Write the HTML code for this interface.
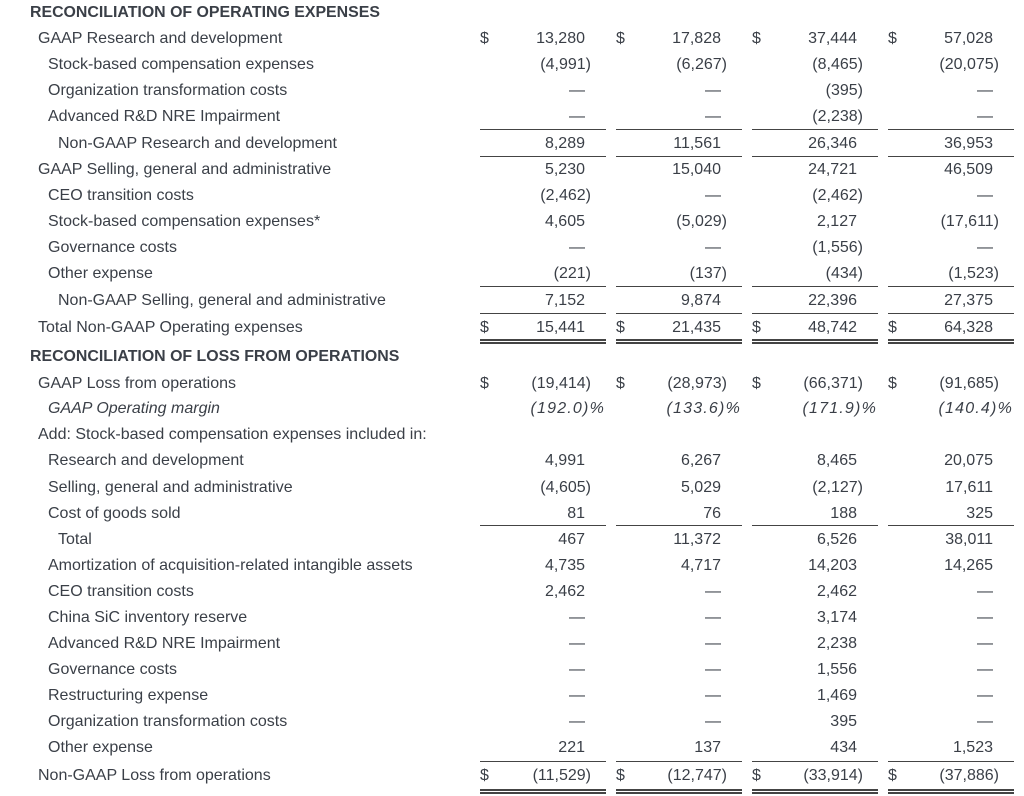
<!DOCTYPE html>
<html><head><meta charset="utf-8"><style>
body{margin:0;background:#fff;width:1024px;height:796px;overflow:hidden;position:relative;font-family:"Liberation Sans",Arial,sans-serif;font-size:16px;color:#3a3f47}
.r{position:absolute;left:0;width:1024px;height:20px;line-height:20px}
.r span{position:absolute;top:0;white-space:nowrap}
.h{font-weight:bold;left:30px;font-size:15.9px}
.l1{left:38px}.l2{left:48px}.l3{left:58px}
.c{text-align:right;width:110px;box-sizing:border-box}
.c1{left:481px}.c2{left:617px}.c3{left:753px}.c4{left:889px}
.n{padding-right:6px}
.d1{left:480px}.d2{left:616px}.d3{left:752px}.d4{left:888px}
.p{font-style:italic;width:124px;letter-spacing:1.2px}
.ln{position:absolute;height:1px;background:#444;width:126px}
.dl{position:absolute;border-top:2px solid #444;border-bottom:2px solid #444;width:126px;box-sizing:border-box;height:5px}
</style></head><body>

<div class="r" style="top:3px"><span class="h">RECONCILIATION OF OPERATING EXPENSES</span></div>
<div class="r" style="top:29px"><span class="l1">GAAP Research and development</span><span class="d1">$</span><span class="d2">$</span><span class="d3">$</span><span class="d4">$</span><span class="c c1 n">13,280</span><span class="c c2 n">17,828</span><span class="c c3 n">37,444</span><span class="c c4 n">57,028</span></div>
<div class="r" style="top:55px"><span class="l2">Stock-based compensation expenses</span><span class="c c1">(4,991)</span><span class="c c2">(6,267)</span><span class="c c3">(8,465)</span><span class="c c4">(20,075)</span></div>
<div class="r" style="top:81px"><span class="l2">Organization transformation costs</span><span class="c c1 n">—</span><span class="c c2 n">—</span><span class="c c3">(395)</span><span class="c c4 n">—</span></div>
<div class="r" style="top:107px"><span class="l2">Advanced R&amp;D NRE Impairment</span><span class="c c1 n">—</span><span class="c c2 n">—</span><span class="c c3">(2,238)</span><span class="c c4 n">—</span></div>
<div class="r" style="top:134px"><span class="l3">Non-GAAP Research and development</span><span class="c c1 n">8,289</span><span class="c c2 n">11,561</span><span class="c c3 n">26,346</span><span class="c c4 n">36,953</span></div>
<div class="r" style="top:160px"><span class="l1">GAAP Selling, general and administrative</span><span class="c c1 n">5,230</span><span class="c c2 n">15,040</span><span class="c c3 n">24,721</span><span class="c c4 n">46,509</span></div>
<div class="r" style="top:186px"><span class="l2">CEO transition costs</span><span class="c c1">(2,462)</span><span class="c c2 n">—</span><span class="c c3">(2,462)</span><span class="c c4 n">—</span></div>
<div class="r" style="top:212px"><span class="l2">Stock-based compensation expenses*</span><span class="c c1 n">4,605</span><span class="c c2">(5,029)</span><span class="c c3 n">2,127</span><span class="c c4">(17,611)</span></div>
<div class="r" style="top:238px"><span class="l2">Governance costs</span><span class="c c1 n">—</span><span class="c c2 n">—</span><span class="c c3">(1,556)</span><span class="c c4 n">—</span></div>
<div class="r" style="top:264px"><span class="l2">Other expense</span><span class="c c1">(221)</span><span class="c c2">(137)</span><span class="c c3">(434)</span><span class="c c4">(1,523)</span></div>
<div class="r" style="top:291px"><span class="l3">Non-GAAP Selling, general and administrative</span><span class="c c1 n">7,152</span><span class="c c2 n">9,874</span><span class="c c3 n">22,396</span><span class="c c4 n">27,375</span></div>
<div class="r" style="top:318px"><span class="l1">Total Non-GAAP Operating expenses</span><span class="d1">$</span><span class="d2">$</span><span class="d3">$</span><span class="d4">$</span><span class="c c1 n">15,441</span><span class="c c2 n">21,435</span><span class="c c3 n">48,742</span><span class="c c4 n">64,328</span></div>
<div class="r" style="top:347px"><span class="h">RECONCILIATION OF LOSS FROM OPERATIONS</span></div>
<div class="r" style="top:374px"><span class="l1">GAAP Loss from operations</span><span class="d1">$</span><span class="d2">$</span><span class="d3">$</span><span class="d4">$</span><span class="c c1">(19,414)</span><span class="c c2">(28,973)</span><span class="c c3">(66,371)</span><span class="c c4">(91,685)</span></div>
<div class="r" style="top:399px"><span class="l2" style="font-style:italic">GAAP Operating margin</span><span class="c p c1">(192.0)%</span><span class="c p c2">(133.6)%</span><span class="c p c3">(171.9)%</span><span class="c p c4">(140.4)%</span></div>
<div class="r" style="top:425px"><span class="l1">Add: Stock-based compensation expenses included in:</span></div>
<div class="r" style="top:451px"><span class="l2">Research and development</span><span class="c c1 n">4,991</span><span class="c c2 n">6,267</span><span class="c c3 n">8,465</span><span class="c c4 n">20,075</span></div>
<div class="r" style="top:478px"><span class="l2">Selling, general and administrative</span><span class="c c1">(4,605)</span><span class="c c2 n">5,029</span><span class="c c3">(2,127)</span><span class="c c4 n">17,611</span></div>
<div class="r" style="top:504px"><span class="l2">Cost of goods sold</span><span class="c c1 n">81</span><span class="c c2 n">76</span><span class="c c3 n">188</span><span class="c c4 n">325</span></div>
<div class="r" style="top:530px"><span class="l3">Total</span><span class="c c1 n">467</span><span class="c c2 n">11,372</span><span class="c c3 n">6,526</span><span class="c c4 n">38,011</span></div>
<div class="r" style="top:556px"><span class="l2">Amortization of acquisition-related intangible assets</span><span class="c c1 n">4,735</span><span class="c c2 n">4,717</span><span class="c c3 n">14,203</span><span class="c c4 n">14,265</span></div>
<div class="r" style="top:582px"><span class="l2">CEO transition costs</span><span class="c c1 n">2,462</span><span class="c c2 n">—</span><span class="c c3 n">2,462</span><span class="c c4 n">—</span></div>
<div class="r" style="top:608px"><span class="l2">China SiC inventory reserve</span><span class="c c1 n">—</span><span class="c c2 n">—</span><span class="c c3 n">3,174</span><span class="c c4 n">—</span></div>
<div class="r" style="top:634px"><span class="l2">Advanced R&amp;D NRE Impairment</span><span class="c c1 n">—</span><span class="c c2 n">—</span><span class="c c3 n">2,238</span><span class="c c4 n">—</span></div>
<div class="r" style="top:660px"><span class="l2">Governance costs</span><span class="c c1 n">—</span><span class="c c2 n">—</span><span class="c c3 n">1,556</span><span class="c c4 n">—</span></div>
<div class="r" style="top:686px"><span class="l2">Restructuring expense</span><span class="c c1 n">—</span><span class="c c2 n">—</span><span class="c c3 n">1,469</span><span class="c c4 n">—</span></div>
<div class="r" style="top:712px"><span class="l2">Organization transformation costs</span><span class="c c1 n">—</span><span class="c c2 n">—</span><span class="c c3 n">395</span><span class="c c4 n">—</span></div>
<div class="r" style="top:738px"><span class="l2">Other expense</span><span class="c c1 n">221</span><span class="c c2 n">137</span><span class="c c3 n">434</span><span class="c c4 n">1,523</span></div>
<div class="r" style="top:766px"><span class="l1">Non-GAAP Loss from operations</span><span class="d1">$</span><span class="d2">$</span><span class="d3">$</span><span class="d4">$</span><span class="c c1">(11,529)</span><span class="c c2">(12,747)</span><span class="c c3">(33,914)</span><span class="c c4">(37,886)</span></div>

<div class="ln" style="top:129px;left:480px"></div><div class="ln" style="top:129px;left:616px"></div><div class="ln" style="top:129px;left:752px"></div><div class="ln" style="top:129px;left:888px"></div>
<div class="ln" style="top:156px;left:480px"></div><div class="ln" style="top:156px;left:616px"></div><div class="ln" style="top:156px;left:752px"></div><div class="ln" style="top:156px;left:888px"></div>
<div class="ln" style="top:286px;left:480px"></div><div class="ln" style="top:286px;left:616px"></div><div class="ln" style="top:286px;left:752px"></div><div class="ln" style="top:286px;left:888px"></div>
<div class="ln" style="top:313px;left:480px"></div><div class="ln" style="top:313px;left:616px"></div><div class="ln" style="top:313px;left:752px"></div><div class="ln" style="top:313px;left:888px"></div>
<div class="dl" style="top:339px;left:480px"></div><div class="dl" style="top:339px;left:616px"></div><div class="dl" style="top:339px;left:752px"></div><div class="dl" style="top:339px;left:888px"></div>
<div class="ln" style="top:525px;left:480px"></div><div class="ln" style="top:525px;left:616px"></div><div class="ln" style="top:525px;left:752px"></div><div class="ln" style="top:525px;left:888px"></div>
<div class="ln" style="top:761px;left:480px"></div><div class="ln" style="top:761px;left:616px"></div><div class="ln" style="top:761px;left:752px"></div><div class="ln" style="top:761px;left:888px"></div>
<div class="dl" style="top:789px;left:480px"></div><div class="dl" style="top:789px;left:616px"></div><div class="dl" style="top:789px;left:752px"></div><div class="dl" style="top:789px;left:888px"></div>
</body></html>
